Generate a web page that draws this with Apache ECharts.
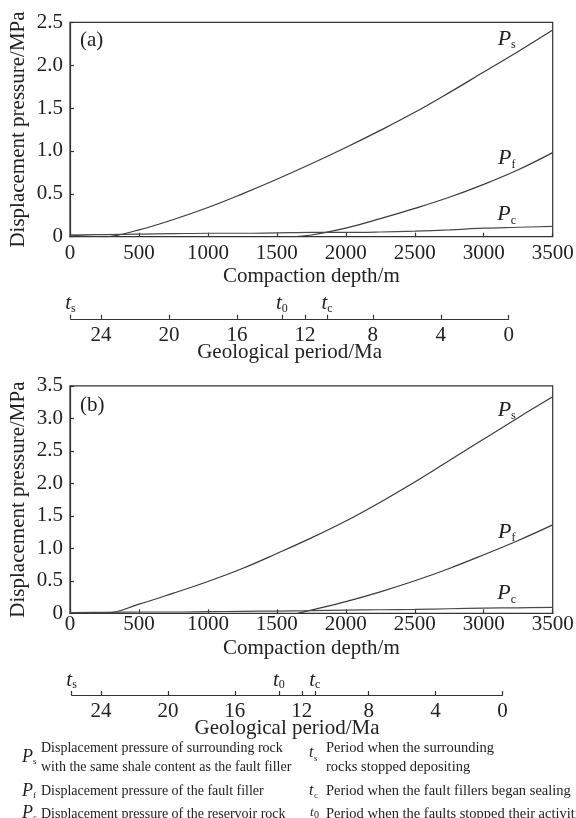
<!DOCTYPE html>
<html><head><meta charset="utf-8">
<script src="https://cdn.jsdelivr.net/npm/echarts@6/dist/echarts.min.js"></script>
<style>html,body{margin:0;padding:0;background:#fff}#c{width:576px;height:818px}</style>
</head><body><div id="c"></div>
<script>
// ---- data ----
const depth = [0,250,500,750,1000,1250,1500,1750,2000,2250,2500,2750,3000,3250,3500];
const psA = [0.02,0.00,0.08,0.20,0.34,0.50,0.67,0.85,1.04,1.24,1.45,1.68,1.92,2.16,2.41];
const pcA = [0.02,0.025,0.03,0.035,0.04,0.04,0.045,0.05,0.05,0.055,0.065,0.08,0.10,0.11,0.12];
const pfDepthA = [1600,1750,2000,2250,2500,2750,3000,3250,3500];
const pfA = [0.00,0.02,0.10,0.21,0.33,0.46,0.61,0.78,0.98];
const psB = [0.01,0.00,0.14,0.31,0.49,0.69,0.92,1.16,1.42,1.71,2.02,2.35,2.68,3.01,3.33];
const pcB = [0.01,0.015,0.02,0.02,0.025,0.03,0.035,0.04,0.05,0.055,0.06,0.07,0.08,0.085,0.09];
const pfDepthB = [1650,1750,2000,2250,2500,2750,3000,3250,3500];
const pfB = [0.00,0.05,0.18,0.33,0.50,0.69,0.90,1.12,1.36];
const depthMax = 3500, depthStep = 500;
const yMaxA = 2.5, yMaxB = 3.5, yStep = 0.5;
const geoTicks = [24,20,16,12,8,4,0];
const eventSubs = ['s','0','c'];
const eventTimesA = [25.8,13.35,10.7];
const eventTimesB = [25.76,13.37,11.22];

// ---- styles ----
const FF = "'Liberation Serif','Times New Roman',serif";
const INK = '#222';
const LINE = '#333';
const mainGrid = (top, h) => ({left:70, right:23.3, top:top, height:h, show:true, borderColor:LINE, borderWidth:1.2, backgroundColor:'transparent', outerBoundsMode:'none', containLabel:false});
const axLine = {show:true, lineStyle:{color:LINE, width:1.2}};

function depthAxis(grid, labelMargin, nameGap){
  return {type:'value', gridIndex:grid, min:0, max:depthMax, interval:depthStep,
    name:'Compaction depth/m', nameLocation:'middle', nameGap:nameGap, nameMoveOverlap:false,
    nameTextStyle:{fontFamily:FF, fontSize:21, color:INK},
    axisLine:axLine, axisTick:{show:true, inside:true, length:4, lineStyle:{color:LINE,width:1.2}},
    axisLabel:{margin:labelMargin, fontFamily:FF, fontSize:21, color:INK, formatter:v => String(v)}, splitLine:{show:false}};
}
function valueAxis(grid, max){
  return {type:'value', gridIndex:grid, min:0, max:max, interval:yStep,
    name:'Displacement pressure/MPa', nameLocation:'middle', nameGap:41, nameMoveOverlap:false,
    nameTextStyle:{fontFamily:FF, fontSize:21, color:INK},
    axisLine:axLine, axisTick:{show:true, inside:true, length:4, lineStyle:{color:LINE,width:1.2}},
    axisLabel:{margin:7, fontFamily:FF, fontSize:21, color:INK, formatter:v => v===0 ? '0' : v.toFixed(1)},
    splitLine:{show:false}};
}
function geoAxis(grid, events){
  const gmax = events[0];
  return {type:'value', gridIndex:grid, min:0, max:gmax, inverse:true, position:'bottom',
    name:'Geological period/Ma', nameLocation:'middle', nameGap:23, nameMoveOverlap:false,
    nameTextStyle:{fontFamily:FF, fontSize:21, color:INK},
    axisLine:axLine,
    axisTick:{show:true, inside:true, length:4, lineStyle:{color:LINE,width:1.2}, customValues:events.concat(geoTicks)},
    axisLabel:{margin:6, fontFamily:FF, fontSize:21, color:INK, customValues:geoTicks, showMinLabel:true, showMaxLabel:true, formatter:v => String(v)},
    splitLine:{show:false}};
}
function eventAxis(grid, events){
  return {type:'value', gridIndex:grid, min:0, max:events[0], inverse:true, position:'bottom',
    axisLine:{show:false}, axisTick:{show:false}, splitLine:{show:false},
    axisLabel:{inside:true, margin:4, customValues:events, showMinLabel:true, showMaxLabel:true,
      formatter:v => { const i = events.indexOf(v); return '{t|t}{s|' + (i>=0 ? eventSubs[i] : '') + '}'; },
      rich:{t:{fontFamily:FF, fontSize:21, fontStyle:'italic', color:INK, lineHeight:22},
            s:{fontFamily:FF, fontSize:12, color:INK, lineHeight:10, verticalAlign:'bottom'}}}};
}
function hiddenY(grid){ return {type:'value', gridIndex:grid, show:false, min:0, max:1}; }

const labelRich = {p:{fontFamily:FF, fontSize:22, fontStyle:'italic', color:INK, lineHeight:24},
                   s:{fontFamily:FF, fontSize:12, color:INK, lineHeight:10, verticalAlign:'bottom'}};
function curve(name, xs, ys, xi, yi, offset, color){
  const k = ys.length - 1;
  return {type:'line', name:'P'+name, xAxisIndex:xi, yAxisIndex:yi, showSymbol:false, symbol:'none',
    smooth:0.4, clip:true, animation:false,
    lineStyle:{color:color, width:1.2},
    data: xs.map((x,i)=>[x, ys[i]]),
    markPoint:{symbol:'circle', symbolSize:0, silent:true, animation:false,
      data:[{coord:[xs[k], ys[k]], itemStyle:{color:'transparent'},
        label:{show:true, position:'inside', offset:offset, formatter:'{p|P}{s|'+name+'}', rich:labelRich}}]}};
}

function legendText(x, y, text, size, italic){
  return {type:'text', x:x, y:y, silent:true,
    style:{text:text, fontFamily:FF, fontSize:size, fontStyle:italic?'italic':'normal', fill:INK, align:'left', verticalAlign:'middle'}};
}

const chart = echarts.init(document.getElementById('c'), null, {renderer:'canvas'});
chart.setOption({
  animation:false,
  backgroundColor:'#fff',
  grid:[
    mainGrid(22.3, 214.4),
    {left:70.5, right:67.3, top:317.8, height:1, show:false, outerBoundsMode:'none'},
    mainGrid(385.8, 227.5),
    {left:71.6, right:73.5, top:694, height:1, show:false, outerBoundsMode:'none'}
  ],
  xAxis:[
    depthAxis(0, 6, 29),
    geoAxis(1, eventTimesA),
    eventAxis(1, eventTimesA),
    depthAxis(2, 1, 25),
    geoAxis(3, eventTimesB),
    eventAxis(3, eventTimesB)
  ],
  yAxis:[ valueAxis(0, yMaxA), hiddenY(1), valueAxis(2, yMaxB), hiddenY(3) ],
  series:[
    curve('s', depth, psA, 0, 0, [-46, 9], '#3a3a3a'),
    curve('f', pfDepthA, pfA, 0, 0, [-46, 6], '#3a3a3a'),
    curve('c', depth, pcA, 0, 0, [-46, -12], '#4a4a4a'),
    curve('s', depth, psB, 3, 2, [-46, 13], '#3a3a3a'),
    curve('f', pfDepthB, pfB, 3, 2, [-46, 7], '#3a3a3a'),
    curve('c', depth, pcB, 3, 2, [-46, -14], '#4a4a4a')
  ],
  graphic:[
    legendText(80, 40, '(a)', 21, false),
    legendText(80, 405, '(b)', 21, false),
    // left column
    legendText(22, 757, 'P', 18, true), legendText(33, 762, 's', 9, false),
    legendText(41, 748, 'Displacement pressure of surrounding rock', 14, false),
    legendText(41, 767, 'with the same shale content as the fault filler', 14, false),
    legendText(22, 791, 'P', 18, true), legendText(33, 796, 'f', 9, false),
    legendText(41, 791, 'Displacement pressure of the fault filler', 14, false),
    legendText(22, 813, 'P', 18, true), legendText(33, 818, 'c', 9, false),
    legendText(41, 814, 'Displacement pressure of the reservoir rock', 14, false),
    // right column
    legendText(309, 753, 't', 16, true), legendText(314, 759, 's', 9, false),
    legendText(326, 748, 'Period when the surrounding', 14.5, false),
    legendText(326, 767, 'rocks stopped depositing', 14.5, false),
    legendText(309, 791, 't', 16, true), legendText(314, 796, 'c', 9, false),
    legendText(326, 791, 'Period when the fault fillers began sealing', 14.5, false),
    legendText(310, 813, 't', 13, true), legendText(314, 815, '0', 10, false),
    legendText(326, 814, 'Period when the faults stopped their activities', 14.5, false)
  ]
});
</script></body></html>
